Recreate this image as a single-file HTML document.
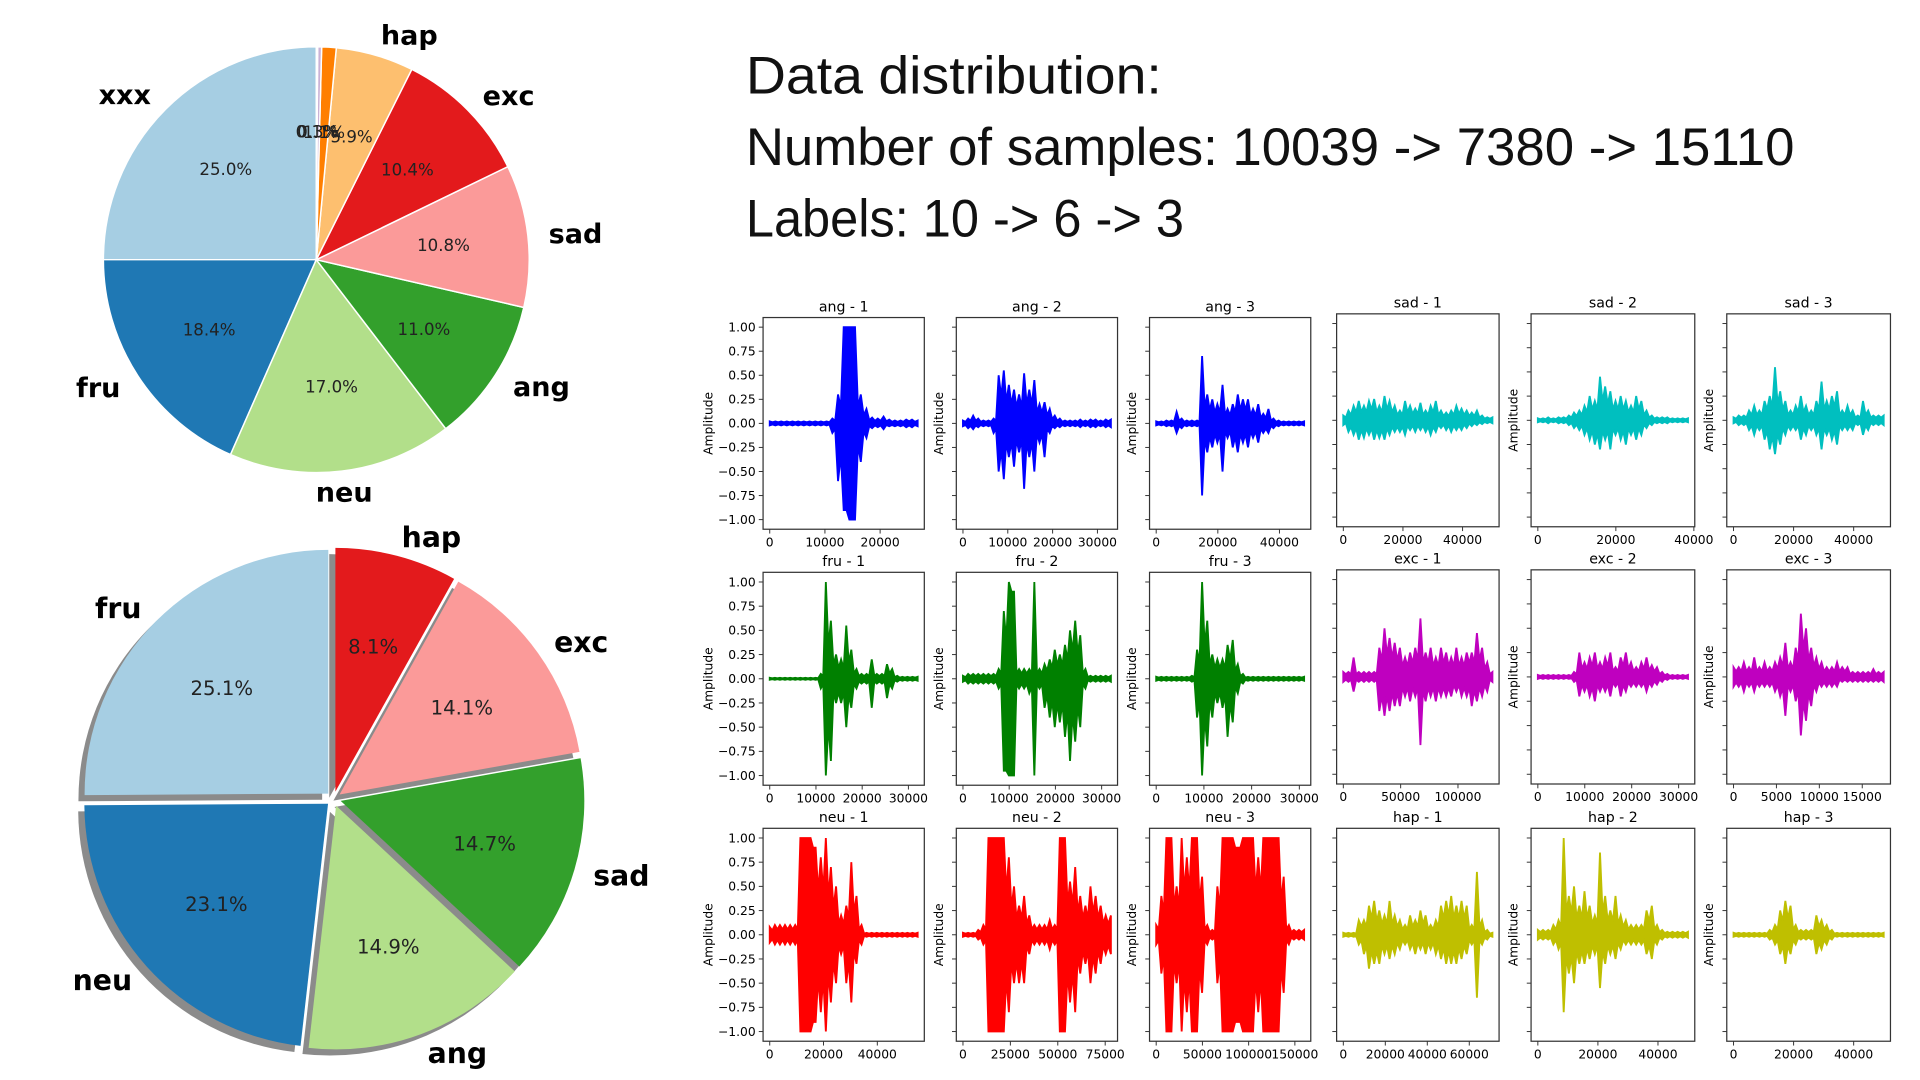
<!DOCTYPE html>
<html><head><meta charset="utf-8">
<style>
html,body{margin:0;padding:0;background:#fff;width:1920px;height:1080px;overflow:hidden}
svg{display:block;font-family:"DejaVu Sans","Liberation Sans",sans-serif}
</style></head>
<body>
<svg id="fig" width="1920" height="1080" viewBox="0 0 1560 877.5" xmlns="http://www.w3.org/2000/svg">
<rect width="1560" height="877.5" fill="#fff"/>
<g font-family="'Liberation Sans','DejaVu Sans',sans-serif" font-size="43" fill="#111">
<text x="606" y="76" textLength="338" lengthAdjust="spacingAndGlyphs">Data distribution:</text>
<text x="606" y="134" textLength="852" lengthAdjust="spacingAndGlyphs">Number of samples: 10039 -&gt; 7380 -&gt; 15110</text>
<text x="606" y="192" textLength="356" lengthAdjust="spacingAndGlyphs">Labels: 10 -&gt; 6 -&gt; 3</text>
</g>
<g id="pies"></g>
<g id="waves"></g>
</svg>
<script>
// ---- pie data ----
const pie1Labels = ['xxx','fru','neu','ang','sad','exc','hap','','',''];
const pie1Values = [25.0,18.4,17.0,11.0,10.8,10.4,5.9,1.1,0.3,0.1];
const pie1Colors = ['#a6cee3','#1f78b4','#b2df8a','#33a02c','#fb9a99','#e31a1c','#fdbf6f','#ff7f00','#cab2d6','#6a3d9a'];
const pie2Labels = ['fru','neu','ang','sad','exc','hap'];
const pie2Values = [25.1,23.1,14.9,14.7,14.1,8.1];
const pie2Colors = ['#a6cee3','#1f78b4','#b2df8a','#33a02c','#fb9a99','#e31a1c'];

// ---- waveform data ----
const waveTitles = ['ang - 1','ang - 2','ang - 3','sad - 1','sad - 2','sad - 3','fru - 1','fru - 2','fru - 3','exc - 1','exc - 2','exc - 3','neu - 1','neu - 2','neu - 3','hap - 1','hap - 2','hap - 3'];
const waveLengths = [26800,33000,48000,50000,38500,50000,32000,32000,31000,130000,32000,17500,55000,78000,160000,71000,50000,50000];
const waveTicks = [[0,10000,20000],[0,10000,20000,30000],[0,20000,40000],[0,20000,40000],[0,20000,40000],[0,20000,40000],
 [0,10000,20000,30000],[0,10000,20000,30000],[0,10000,20000,30000],[0,50000,100000],[0,10000,20000,30000],[0,5000,10000,15000],
 [0,20000,40000],[0,25000,50000,75000],[0,50000,100000,150000],[0,20000,40000,60000],[0,20000,40000],[0,20000,40000]];
const yTicks = [-1,-0.75,-0.5,-0.25,0,0.25,0.5,0.75,1];
const waveUp = [
 [.02,.02,.02,.02,.02,.02,.02,.02,.02,.02,.02,.05,.3,1,1,1,.3,.15,.06,.05,.07,.04,.03,.03,.04,.04,.03],
 [.03,.05,.08,.05,.03,.03,.05,.5,.55,.4,.35,.3,.52,.35,.45,.2,.22,.15,.08,.05,.03,.03,.03,.04,.03,.04,.04,.03,.04,.04],
 [.02,.02,.03,.03,.12,.05,.03,.03,.03,.7,.3,.25,.2,.4,.15,.2,.3,.25,.25,.15,.2,.1,.15,.05,.03,.02,.02,.02,.02,.02],
 [.05,.1,.15,.2,.15,.2,.22,.15,.25,.2,.15,.1,.2,.15,.12,.18,.1,.15,.2,.1,.08,.1,.15,.12,.1,.08,.1,.05,.03,.03],
 [.02,.02,.03,.02,.03,.03,.05,.08,.1,.15,.25,.2,.45,.35,.3,.2,.25,.2,.15,.25,.2,.1,.05,.03,.03,.03,.02,.02,.02,.02],
 [.03,.05,.05,.1,.15,.1,.2,.25,.55,.3,.2,.1,.15,.25,.15,.1,.2,.4,.2,.25,.3,.1,.15,.1,.05,.2,.1,.05,.05,.05],
 [.01,.01,.01,.01,.01,.01,.01,.01,.01,.01,.05,1,.6,.25,.2,.55,.3,.1,.05,.05,.2,.05,.05,.15,.1,.03,.02,.02,.02,.02],
 [.03,.05,.05,.05,.05,.05,.05,.1,.7,1,.9,.1,.1,.1,1,.1,.15,.2,.3,.25,.35,.5,.6,.45,.1,.03,.03,.03,.03,.03],
 [.02,.02,.02,.02,.02,.02,.02,.03,.3,1,.6,.25,.2,.2,.35,.4,.15,.05,.02,.02,.02,.02,.02,.02,.02,.02,.02,.02,.02,.02],
 [.05,.05,.2,.05,.05,.05,.05,.3,.5,.4,.35,.3,.2,.25,.3,.6,.25,.3,.2,.3,.25,.2,.3,.2,.25,.25,.45,.3,.15,.05],
 [.02,.02,.02,.02,.02,.02,.02,.05,.25,.15,.2,.25,.15,.2,.25,.1,.2,.25,.15,.1,.15,.2,.12,.1,.05,.03,.02,.02,.02,.02],
 [.1,.1,.15,.1,.2,.1,.15,.1,.15,.2,.35,.15,.3,.65,.5,.3,.2,.15,.1,.1,.15,.1,.1,.05,.05,.05,.05,.08,.05,.05],
 [.08,.1,.1,.1,.1,.1,1,1,1,.9,.8,1,.7,.5,.2,.3,.75,.4,.1,.02,.02,.02,.02,.02,.02,.02,.02,.02,.02,.02],
 [.02,.02,.02,.05,.1,1,1,1,1,.8,.5,.3,.4,.2,.1,.1,.1,.15,.1,1,1,.55,.7,.4,.3,.5,.4,.3,.2,.2],
 [.1,.4,1,1,.5,1,.8,1,1,.6,.1,.05,.5,1,1,1,.9,1,1,1,.8,1,1,1,1,.6,.1,.05,.05,.05],
 [.02,.02,.02,.15,.15,.3,.35,.25,.2,.35,.2,.15,.1,.2,.15,.25,.2,.1,.15,.3,.35,.4,.3,.35,.3,.1,.65,.15,.05,.02],
 [.05,.05,.05,.1,.15,1,.4,.5,.3,.45,.3,.2,.85,.4,.25,.4,.2,.15,.1,.1,.1,.25,.3,.1,.05,.03,.03,.03,.03,.03],
 [.02,.02,.02,.02,.02,.02,.02,.05,.1,.25,.35,.3,.1,.05,.05,.05,.2,.15,.1,.05,.02,.02,.02,.02,.02,.02,.02,.02,.02,.02]
];
const waveDown = [
 [.02,.02,.02,.02,.02,.02,.02,.02,.02,.02,.02,.1,.6,.9,1,1,.4,.15,.05,.04,.06,.03,.03,.03,.04,.04,.03],
 [.03,.05,.06,.04,.03,.03,.1,.5,.58,.35,.45,.3,.68,.35,.5,.2,.35,.1,.05,.04,.03,.03,.03,.04,.03,.04,.04,.03,.04,.04],
 [.02,.02,.03,.03,.1,.05,.03,.03,.03,.75,.3,.25,.2,.5,.15,.25,.3,.2,.25,.15,.2,.1,.1,.05,.03,.02,.02,.02,.02,.02],
 [.05,.12,.15,.2,.18,.15,.2,.18,.2,.15,.12,.12,.15,.1,.12,.1,.12,.15,.12,.08,.1,.12,.1,.1,.08,.06,.05,.04,.03,.03],
 [.02,.02,.03,.02,.03,.03,.05,.08,.1,.15,.2,.25,.3,.2,.3,.15,.2,.25,.15,.2,.15,.08,.05,.03,.03,.03,.02,.02,.02,.02],
 [.03,.05,.05,.1,.15,.1,.2,.3,.35,.25,.15,.1,.1,.2,.15,.1,.15,.3,.15,.2,.25,.1,.1,.1,.05,.15,.1,.05,.05,.05],
 [.01,.01,.01,.01,.01,.01,.01,.01,.01,.01,.1,1,.85,.25,.25,.5,.3,.1,.05,.05,.3,.05,.05,.2,.1,.03,.02,.02,.02,.02],
 [.03,.05,.05,.05,.05,.05,.05,.1,.95,1,1,.1,.1,.15,1,.1,.3,.4,.5,.45,.6,.85,.65,.5,.1,.03,.03,.03,.03,.03],
 [.02,.02,.02,.02,.02,.02,.02,.03,.4,1,.7,.4,.25,.3,.6,.45,.15,.05,.02,.02,.02,.02,.02,.02,.02,.02,.02,.02,.02,.02],
 [.05,.05,.15,.05,.05,.05,.05,.35,.4,.35,.3,.3,.2,.25,.2,.7,.25,.2,.25,.2,.2,.2,.15,.2,.2,.3,.25,.2,.15,.05],
 [.02,.02,.02,.02,.02,.02,.02,.05,.2,.15,.2,.25,.15,.15,.2,.1,.2,.15,.1,.1,.1,.15,.1,.08,.05,.03,.02,.02,.02,.02],
 [.1,.1,.15,.1,.15,.1,.1,.1,.15,.2,.4,.15,.25,.6,.45,.3,.15,.1,.1,.1,.1,.05,.05,.05,.05,.05,.05,.05,.05,.05],
 [.08,.1,.1,.1,.1,.1,1,1,1,.9,.8,1,.7,.5,.2,.5,.7,.3,.1,.02,.02,.02,.02,.02,.02,.02,.02,.02,.02,.02],
 [.02,.02,.02,.05,.1,1,1,1,1,.8,.5,.5,.5,.2,.1,.1,.1,.15,.1,1,1,.7,.8,.4,.3,.5,.4,.3,.2,.2],
 [.1,.4,1,1,.5,1,.8,1,1,.6,.1,.05,.5,1,1,1,.9,1,1,1,.8,1,1,1,1,.6,.1,.05,.05,.05],
 [.02,.02,.02,.1,.2,.35,.3,.3,.2,.25,.2,.15,.1,.15,.2,.15,.2,.15,.2,.25,.3,.3,.3,.25,.2,.1,.65,.1,.05,.02],
 [.05,.05,.05,.1,.15,.8,.4,.5,.3,.3,.25,.2,.55,.3,.2,.25,.15,.1,.1,.1,.1,.2,.25,.1,.05,.03,.03,.03,.03,.03],
 [.02,.02,.02,.02,.02,.02,.02,.05,.1,.2,.3,.2,.1,.05,.05,.05,.2,.15,.1,.05,.02,.02,.02,.02,.02,.02,.02,.02,.02,.02]
];
const waveColors = ['#0000ff','#0000ff','#0000ff','#00bfbf','#00bfbf','#00bfbf','#008000','#008000','#008000','#bf00bf','#bf00bf','#bf00bf','#ff0000','#ff0000','#ff0000','#bfbf00','#bfbf00','#bfbf00'];

const NS='http://www.w3.org/2000/svg';
function mk(tag, attrs, parent){const e=document.createElementNS(NS,tag);for(const k in attrs)e.setAttribute(k,attrs[k]);if(parent)parent.appendChild(e);return e;}

// ---- pies ----
function drawPie(parent, labels, values, colors, cx, cy, r, explode, pctR, labR, pctSize, labSize, shadow, name){
  const g=mk('g',{},parent);
  
  
  const total=values.reduce((a,b)=>a+b,0);
  let a0=90;
  const slices=[];
  values.forEach((v,i)=>{
    const a1=a0+v/total*360, mid=(a0+a1)/2*Math.PI/180;
    const ox=explode*Math.cos(mid), oy=-explode*Math.sin(mid);
    slices.push({a0,a1,mid,ox,oy,i});
    a0=a1;
  });
  function path(s,dx,dy){
    const x=cx+s.ox+dx,y=cy+s.oy+dy;
    const t0=s.a0*Math.PI/180,t1=s.a1*Math.PI/180;
    const large=(s.a1-s.a0)>180?1:0;
    return `M${x},${y} L${x+r*Math.cos(t0)},${y-r*Math.sin(t0)} A${r},${r} 0 ${large} 0 ${x+r*Math.cos(t1)},${y-r*Math.sin(t1)} Z`;
  }
  if(shadow){slices.forEach(s=>{mk('path',{d:path(s,-5,5),fill:'#777','fill-opacity':0.85},g);});}
  slices.forEach(s=>{
    const p=mk('path',{d:path(s,0,0),fill:colors[s.i],stroke:shadow?'none':'#fff','stroke-width':1.2},g);
    
    
  });
  slices.forEach(s=>{
    const px=cx+s.ox+pctR*Math.cos(s.mid), py=cy+s.oy-pctR*Math.sin(s.mid);
    const t=mk('text',{x:px,y:py+pctSize*0.36,'text-anchor':'middle','font-size':pctSize,fill:'#222'},g);
    t.textContent=values[s.i].toFixed(1)+'%';
    
    
    if(labels[s.i]){
      const c=Math.cos(s.mid);
      const lx=cx+s.ox+labR*c, ly=cy+s.oy-labR*Math.sin(s.mid);
      const anchor=Math.abs(c)<0.2?'middle':(c>0?'start':'end');
      const l=mk('text',{x:lx,y:ly+labSize*0.36,'text-anchor':anchor,'font-size':labSize,'font-weight':'bold',fill:'#000'},g);
      l.textContent=labels[s.i];
      
      
    }
  });
}
const pies=document.getElementById('pies');
drawPie(pies,pie1Labels,pie1Values,pie1Colors,257,211,173,0,104,190,13.5,22,false,'pie-original');
drawPie(pies,pie2Labels,pie2Values,pie2Colors,271,649,198,6,122,214,16,23,true,'pie-final');

// ---- waveforms ----
const leftX=[[620,751],[777,908],[934,1065]], rightX=[[1086,1218],[1244,1377],[1403,1536]];
const leftY=[[258,430],[465,638],[673,846]], rightY=[[255,428],[463,637],[673,846]];
const waves=document.getElementById('waves');
waveTitles.forEach((title,k)=>{
  const row=Math.floor(k/6), c=k%6, right=c>=3, col=c%3;
  const [x0,x1]=right?rightX[col]:leftX[col];
  const [y0,y1]=right?rightY[row]:leftY[row];
  const n=waveLengths[k];
  const xs=v=>x0+(v+0.045*n)/(1.09*n)*(x1-x0);
  const ys=v=>(y0+y1)/2-v/2.2*(y1-y0);
  const g=mk('g',{},waves);
  
  
  const up=waveUp[k], dn=waveDown[k], m=up.length;
  const dip=(a,b)=>{const mn=Math.min(a,b);return mn>=0.9?mn:0.55*mn;};
  let top=[], bot=[];
  for(let i=0;i<m;i++){
    top.push([xs(i/(m-1)*n),ys(up[i])]);
    bot.push([xs(i/(m-1)*n),ys(-dn[i])]);
    if(i<m-1){
      const xm=xs((i+0.5)/(m-1)*n);
      top.push([xm,ys(dip(up[i],up[i+1]))]);
      bot.push([xm,ys(-dip(dn[i],dn[i+1]))]);
    }
  }
  const pts=top.concat(bot.reverse()).map(p=>p[0].toFixed(1)+','+p[1].toFixed(1));
  const poly=mk('polygon',{points:pts.join(' '),fill:waveColors[k],stroke:waveColors[k],'stroke-width':1.5,'stroke-linejoin':'miter'},g);
  
  
  const frame=mk('rect',{x:x0,y:y0,width:x1-x0,height:y1-y0,fill:'none',stroke:'#333','stroke-width':1},g);
  
  
  const tt=mk('text',{x:(x0+x1)/2,y:y0-5,'text-anchor':'middle','font-size':11.5,fill:'#000'},g);
  tt.textContent=title;
  
  
  waveTicks[k].forEach(v=>{
    const x=xs(v);
    mk('line',{x1:x,x2:x,y1:y1,y2:y1+3.5,stroke:'#333','stroke-width':0.8},g);
    const t=mk('text',{x:x,y:y1+14,'text-anchor':'middle','font-size':10,fill:'#000'},g);
    t.textContent=String(v);
    
    
  });
  yTicks.forEach(v=>{
    const y=ys(v);
    mk('line',{x1:x0-3.5,x2:x0,y1:y,y2:y,stroke:'#333','stroke-width':0.8},g);
    if(!right&&col===0){
      const t=mk('text',{x:x0-6,y:y+3.5,'text-anchor':'end','font-size':10,fill:'#000'},g);
      t.textContent=(v<0?'\u2212':'')+Math.abs(v).toFixed(2);
      
      
    }
  });
  if(!(right&&col===0)){
    const ax=(!right&&col===0)?x0-41:x0-11;
    const yl=mk('text',{x:ax,y:(y0+y1)/2,'text-anchor':'middle','font-size':10,fill:'#000',transform:`rotate(-90 ${ax} ${(y0+y1)/2})`},g);
    yl.textContent='Amplitude';
    
    
  }
});
</script>
</body></html>
